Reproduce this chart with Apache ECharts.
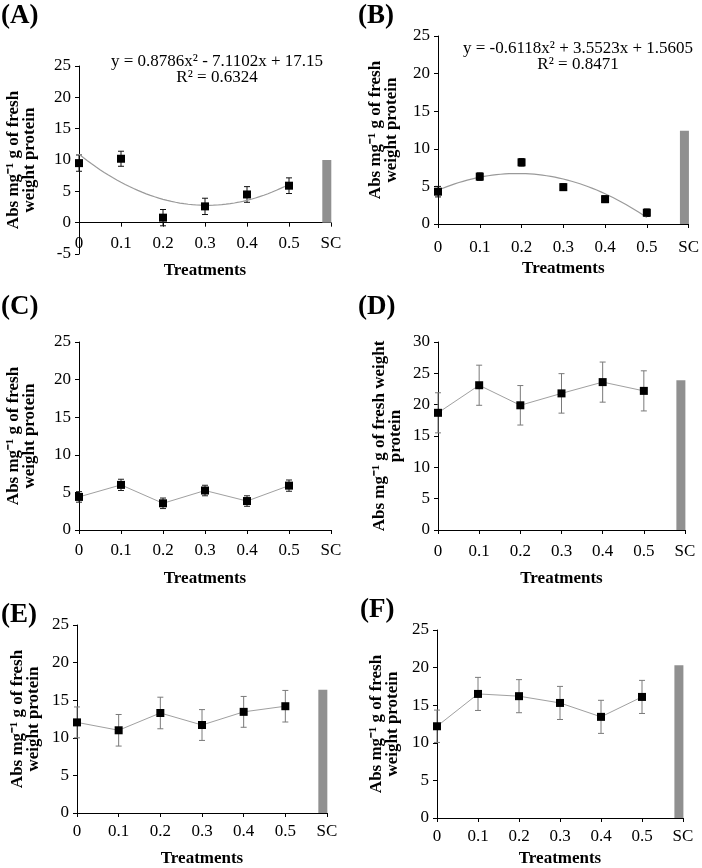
<!DOCTYPE html>
<html>
<head>
<meta charset="utf-8">
<script src="https://cdn.jsdelivr.net/npm/echarts@6/dist/echarts.min.js"></script>
<style>
html,body{margin:0;padding:0;background:#fff;}
#chart{width:702px;height:868px;}
</style>
</head>
<body>
<div id="chart"></div>
<script>
// ---------- data ----------
const treatments = ['0', '0.1', '0.2', '0.3', '0.4', '0.5', 'SC'];
const doses = [0, 0.1, 0.2, 0.3, 0.4, 0.5];

const meanA = [9.5, 10.2, 0.8, 2.6, 4.5, 5.9];
const errA  = [1.3, 1.2, 1.3, 1.3, 1.25, 1.25];
const scA   = 10.0;
const trendA = [0.8786, -7.1102, 17.15];   // a, b, c of printed fit
const eqA = ['y = 0.8786x² - 7.1102x + 17.15', 'R² = 0.6324'];

const meanB = [4.3, 6.3, 8.2, 4.9, 3.3, 1.5];
const errB  = [0.7, 0.5, 0.5, 0.45, 0.45, 0.5];
const scB   = 12.4;
const trendB = [-0.6118, 3.5523, 1.5605];
const eqB = ['y = -0.6118x² + 3.5523x + 1.5605', 'R² = 0.8471'];

const meanC = [4.4, 6.0, 3.55, 5.25, 3.85, 5.9];
const errC  = [0.7, 0.75, 0.7, 0.7, 0.7, 0.75];
const scC   = null;

const meanD = [18.7, 23.1, 19.9, 21.8, 23.6, 22.2];
const errD  = [3.2, 3.2, 3.15, 3.15, 3.2, 3.2];
const scD   = 23.9;

const meanE = [12.05, 11.0, 13.3, 11.7, 13.45, 14.2];
const errE  = [2.05, 2.1, 2.1, 2.05, 2.05, 2.1];
const scE   = 16.4;

const meanF = [12.2, 16.5, 16.2, 15.3, 13.45, 16.1];
const errF  = [2.15, 2.2, 2.2, 2.2, 2.2, 2.2];
const scF   = 20.3;

const yTitle1 = 'Abs mg⁻¹ g of fresh\nweight protein';
const yTitle2 = 'Abs mg⁻¹ g of fresh weight\nprotein';
const xTitle = 'Treatments';

// ---------- layout ----------
const SERIF = '"Liberation Serif", "Times New Roman", serif';
const SC_POS = 0.59;
const FS = 17;

const panels = [
  {tag:'(A)', mean:meanA, err:errA, sc:scA, trend:trendA, eq:eqA, yName:yTitle1,
   grid:{left:79, top:66, width:252, height:188}, ymin:-5, ymax:25, xOffset:-31.33,
   nameGapY:41, nameGapX:39, labMargin:12,
   tagPos:[1,3], eqPos:[217,62], errColor:'#111'},
  {tag:'(B)', mean:meanB, err:errB, sc:scB, trend:trendB, eq:eqB, yName:yTitle1,
   grid:{left:438, top:36, width:255, height:188}, ymin:0, ymax:25, xOffset:0,
   nameGapY:38, nameGapX:36, labMargin:15,
   tagPos:[358,3], eqPos:[578,49], errColor:'#111'},
  {tag:'(C)', mean:meanC, err:errC, sc:scC, yName:yTitle1,
   grid:{left:79, top:342, width:252, height:188}, ymin:0, ymax:25, xOffset:0,
   nameGapY:41, nameGapX:40, labMargin:12,
   tagPos:[1,294], errColor:'#222'},
  {tag:'(D)', mean:meanD, err:errD, sc:scD, yName:yTitle2,
   grid:{left:438, top:342, width:247, height:188}, ymin:0, ymax:30, xOffset:0,
   nameGapY:34, nameGapX:40, labMargin:13,
   tagPos:[358,294], errColor:'#7a7a7a'},
  {tag:'(E)', mean:meanE, err:errE, sc:scE, yName:yTitle1,
   grid:{left:77, top:625, width:250, height:194}, ymin:0, ymax:25, xOffset:0,
   nameGapY:35, nameGapX:37, labMargin:10,
   tagPos:[1,602], errColor:'#7a7a7a'},
  {tag:'(F)', mean:meanF, err:errF, sc:scF, yName:yTitle1,
   grid:{left:437, top:630, width:246, height:188}, ymin:0, ymax:25, xOffset:0,
   nameGapY:36, nameGapX:32, labMargin:10,
   tagPos:[360,597], errColor:'#7a7a7a'}
];

const grids = [], xAxes = [], yAxes = [], series = [], graphics = [];

panels.forEach((p, i) => {
  grids.push(Object.assign({containLabel:false}, p.grid));
  xAxes.push({
    type:'value', gridIndex:i, min:0, max:0.6, interval:0.1, offset:p.xOffset,
    name:xTitle, nameLocation:'middle', nameGap:p.nameGapX,
    nameTextStyle:{fontFamily:SERIF, fontWeight:'bold', fontSize:FS, color:'#000'},
    axisLine:{onZero:false, lineStyle:{color:'#000', width:1}},
    axisTick:{show:true, length:4, lineStyle:{color:'#000'}},
    axisLabel:{fontFamily:SERIF, fontSize:FS, color:'#000', margin:p.labMargin,
      formatter:v => treatments[Math.round(v*10)]},
    splitLine:{show:false}
  });
  yAxes.push({
    type:'value', gridIndex:i, min:p.ymin, max:p.ymax, interval:5,
    name:p.yName, nameLocation:'middle', nameRotate:90, nameGap:p.nameGapY,
    nameTextStyle:{fontFamily:SERIF, fontWeight:'bold', fontSize:FS, color:'#000', lineHeight:16},
    axisLine:{show:true, lineStyle:{color:'#000', width:1}},
    axisTick:{show:true, length:4, lineStyle:{color:'#000'}},
    axisLabel:{fontFamily:SERIF, fontSize:FS, color:'#000', margin:8},
    splitLine:{show:false}
  });

  if (p.sc !== null && p.sc !== undefined) {
    series.push({
      type:'bar', xAxisIndex:i, yAxisIndex:i, barWidth:9,
      data:[[SC_POS, p.sc]], itemStyle:{color:'#909090'}, silent:true, z:1
    });
  }

  const errData = doses.map((d, k) => [d, p.mean[k] - p.err[k], p.mean[k] + p.err[k]]);
  series.push({
    type:'custom', xAxisIndex:i, yAxisIndex:i, data:errData, z:2, silent:true,
    renderItem:(params, api) => {
      const lo = api.coord([api.value(0), api.value(1)]);
      const hi = api.coord([api.value(0), api.value(2)]);
      const w = 3;
      const st = {stroke:p.errColor, lineWidth:1};
      return {type:'group', children:[
        {type:'line', shape:{x1:lo[0], y1:lo[1], x2:hi[0], y2:hi[1]}, style:st},
        {type:'line', shape:{x1:lo[0]-w, y1:lo[1], x2:lo[0]+w, y2:lo[1]}, style:st},
        {type:'line', shape:{x1:hi[0]-w, y1:hi[1], x2:hi[0]+w, y2:hi[1]}, style:st}
      ]};
    }
  });

  if (p.trend) {
    const [a, b, c] = p.trend;
    const curve = [];
    for (let s = 0; s <= 50; s++) {
      const t = s * 0.01;
      const xi = t * 10 + 1;
      curve.push([t, a*xi*xi + b*xi + c]);
    }
    series.push({
      type:'line', xAxisIndex:i, yAxisIndex:i, data:curve, showSymbol:false, symbol:'none',
      lineStyle:{color:'#9a9a9a', width:1.2}, z:3, silent:true
    });
    series.push({
      type:'line', xAxisIndex:i, yAxisIndex:i, data:doses.map((d,k)=>[d,p.mean[k]]),
      symbol:'rect', symbolSize:8, itemStyle:{color:'#000'}, lineStyle:{width:0, opacity:0}, z:4, silent:true
    });
    graphics.push({type:'text', x:p.eqPos[0], y:p.eqPos[1],
      style:{text:p.eq[0], fontFamily:SERIF, fontSize:FS, fill:'#000', textAlign:'center', textVerticalAlign:'middle'}});
    graphics.push({type:'text', x:p.eqPos[0], y:p.eqPos[1]+16,
      style:{text:p.eq[1], fontFamily:SERIF, fontSize:FS, fill:'#000', textAlign:'center', textVerticalAlign:'middle'}});
  } else {
    series.push({
      type:'line', xAxisIndex:i, yAxisIndex:i, data:doses.map((d,k)=>[d,p.mean[k]]),
      symbol:'rect', symbolSize:8, itemStyle:{color:'#000'},
      lineStyle:{color:'#a0a0a0', width:1}, z:4, silent:true
    });
  }

  graphics.push({type:'text', x:p.tagPos[0], y:p.tagPos[1],
    style:{text:p.tag, fontFamily:SERIF, fontSize:27, fontWeight:'bold', fill:'#000'}});
});

const chart = echarts.init(document.getElementById('chart'), null, {renderer:'canvas'});
chart.setOption({
  animation:false,
  backgroundColor:'#fff',
  grid:grids, xAxis:xAxes, yAxis:yAxes, series:series, graphic:graphics
});
</script>
</body>
</html>
